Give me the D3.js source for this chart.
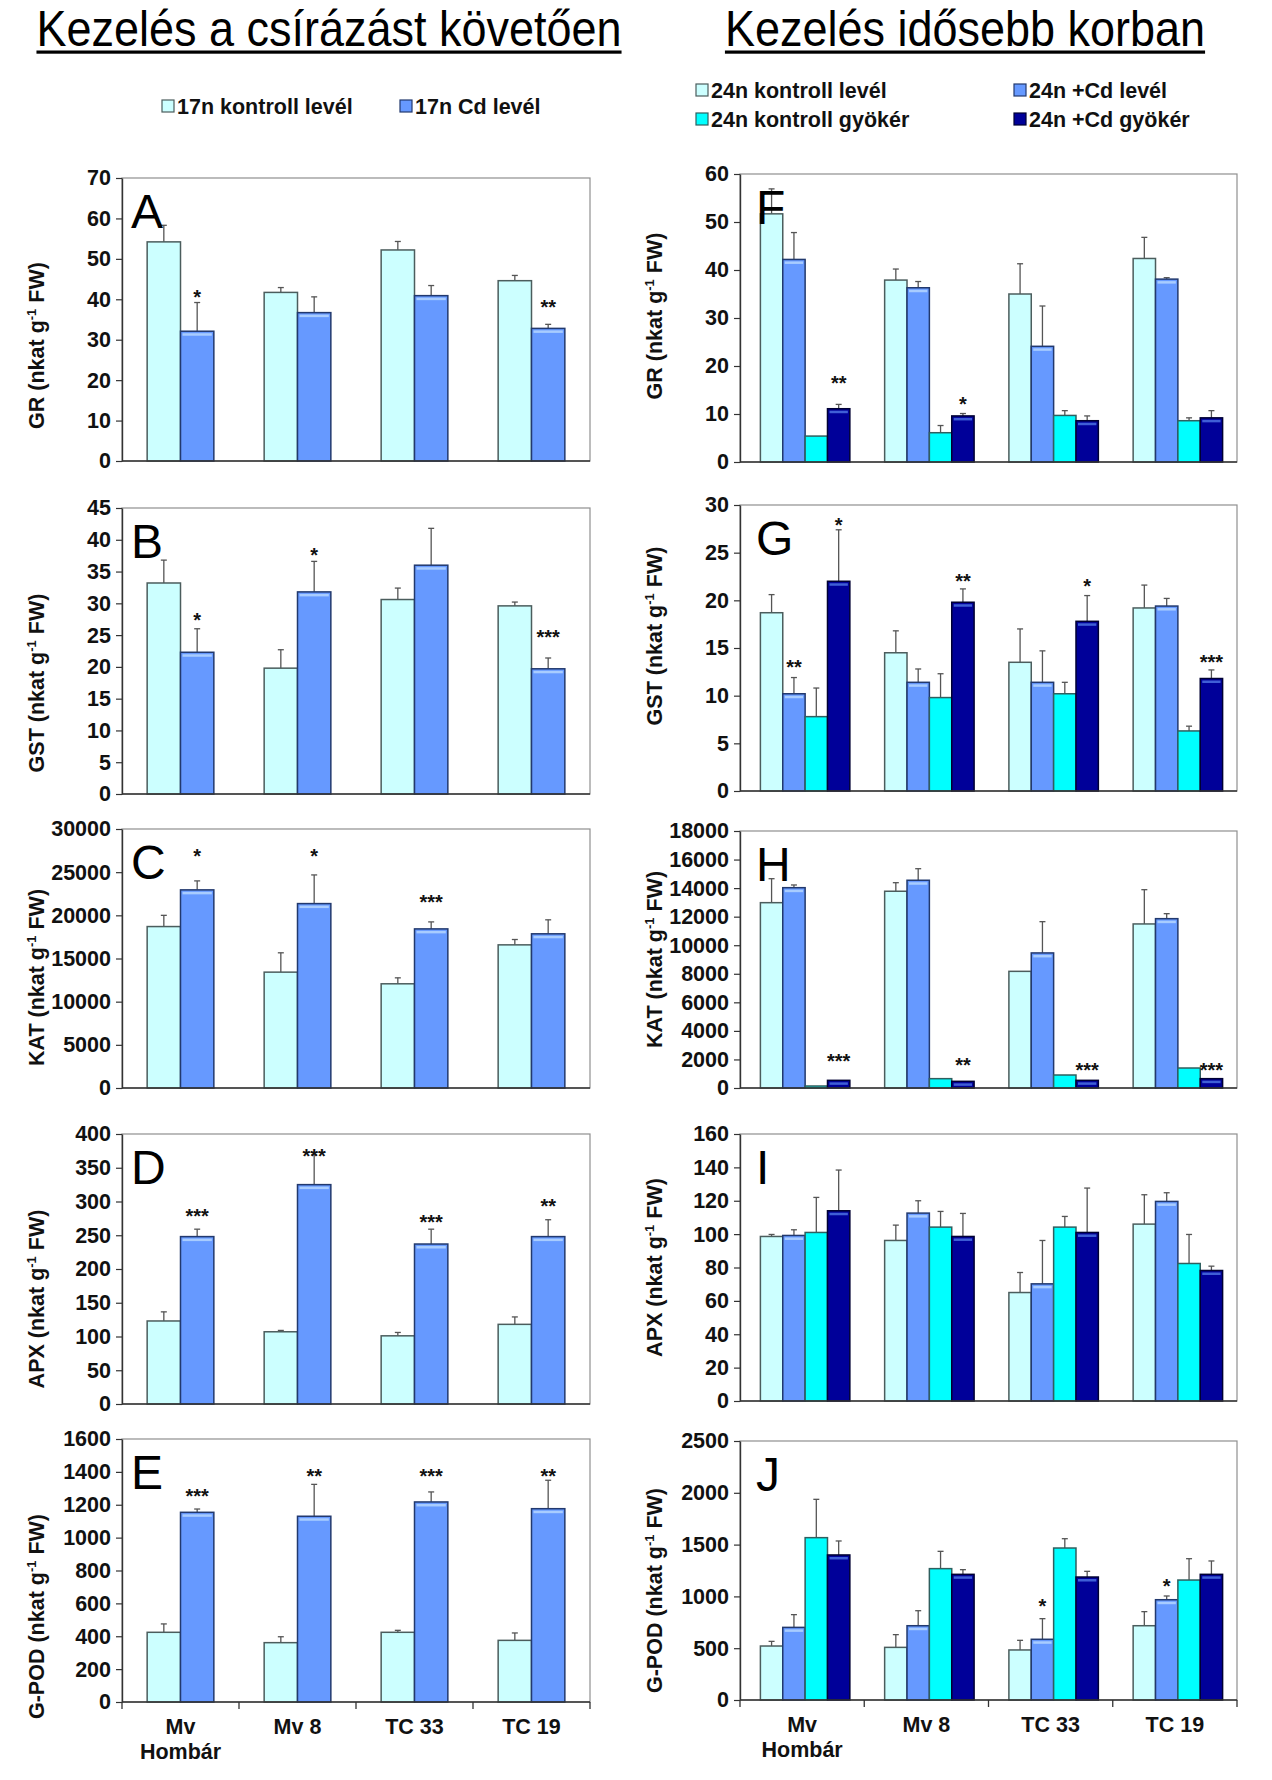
<!DOCTYPE html>
<html><head><meta charset="utf-8">
<script src="https://cdn.jsdelivr.net/npm/d3@7"></script>
<style>
body{margin:0;background:#fff}
svg{display:block}
text{font-family:"Liberation Sans",Arial,Helvetica,sans-serif}
</style>
</head><body>
<svg id="c" width="1272" height="1780"></svg>
<script>
// ---------- categories & legends ----------
const groups = ["Mv Hombár", "Mv 8", "TC 33", "TC 19"];
const groupLines = [["Mv", "Hombár"], ["Mv 8"], ["TC 33"], ["TC 19"]];
const titleLeft = "Kezelés a csírázást követően";
const titleRight = "Kezelés idősebb korban";
const legendLeft = ["17n kontroll levél", "17n Cd levél"];
const legendRight = ["24n kontroll levél", "24n +Cd levél", "24n kontroll gyökér", "24n +Cd gyökér"];

// ---------- panel A: GR (17 n) ----------
const A_kontroll = [54.2, 41.7, 52.2, 44.6];
const A_kontrollErr = [4.1, 1.2, 2.1, 1.3];
const A_cd = [32.1, 36.7, 40.9, 32.8];
const A_cdErr = [7.1, 3.9, 2.5, 1.0];
const A_sig = ["*", "", "", "**"];
const A_sigAt = [41.6, null, null, 39.1];
const A_ticks = [0, 10, 20, 30, 40, 50, 60, 70];

// ---------- panel B: GST (17 n) ----------
const B_kontroll = [33.2, 19.8, 30.6, 29.6];
const B_kontrollErr = [3.6, 2.9, 1.8, 0.6];
const B_cd = [22.3, 31.8, 36.0, 19.7];
const B_cdErr = [3.7, 4.8, 5.8, 1.7];
const B_sig = ["*", "*", "", "***"];
const B_sigAt = [28.0, 38.3, null, 25.3];
const B_ticks = [0, 5, 10, 15, 20, 25, 30, 35, 40, 45];

// ---------- panel C: KAT (17 n) ----------
const C_kontroll = [18700, 13420, 12070, 16580];
const C_kontrollErr = [1300, 2240, 690, 620];
const C_cd = [22950, 21360, 18430, 17860];
const C_cdErr = [1040, 3320, 810, 1620];
const C_sig = ["*", "*", "***", ""];
const C_sigAt = [27300, 27300, 22020, null];
const C_ticks = [0, 5000, 10000, 15000, 20000, 25000, 30000];

// ---------- panel D: APX (17 n) ----------
const D_kontroll = [123, 107, 101, 118];
const D_kontrollErr = [13.5, 2, 5, 11];
const D_cd = [248, 325, 237, 248];
const D_cdErr = [11, 44.5, 22, 25];
const D_sig = ["***", "***", "***", "**"];
const D_sigAt = [284, 374, 276, 299];
const D_ticks = [0, 50, 100, 150, 200, 250, 300, 350, 400];

// ---------- panel E: G-POD (17 n) ----------
const E_kontroll = [424, 361, 424, 375];
const E_kontrollErr = [51, 36, 12, 45];
const E_cd = [1154, 1130, 1217, 1176];
const E_cdErr = [20, 194, 61, 173];
const E_sig = ["***", "**", "***", "**"];
const E_sigAt = [1276, 1397, 1397, 1397];
const E_ticks = [0, 200, 400, 600, 800, 1000, 1200, 1400, 1600];

// ---------- panel F: GR (24 n) ----------
const F_kontrollLevel = [51.7, 37.9, 35.0, 42.4];
const F_kontrollLevelErr = [5.2, 2.3, 6.3, 4.4];
const F_cdLevel = [42.2, 36.3, 24.1, 38.1];
const F_cdLevelErr = [5.6, 1.3, 8.4, 0.3];
const F_kontrollGyoker = [5.4, 6.1, 9.7, 8.6];
const F_kontrollGyokerErr = [0, 1.5, 1.0, 0.6];
const F_cdGyoker = [11.1, 9.6, 8.6, 9.2];
const F_cdGyokerErr = [0.9, 0.5, 1.0, 1.5];
const F_cdGyokerSig = ["**", "*", "", ""];
const F_cdGyokerSigAt = [17.2, 13.0, null, null];
const F_ticks = [0, 10, 20, 30, 40, 50, 60];

// ---------- panel G: GST (24 n) ----------
const G_kontrollLevel = [18.7, 14.5, 13.5, 19.2];
const G_kontrollLevelErr = [1.9, 2.3, 3.5, 2.4];
const G_cdLevel = [10.2, 11.4, 11.4, 19.4];
const G_cdLevelErr = [1.7, 1.4, 3.3, 0.8];
const G_cdLevelSig = ["**", "", "", ""];
const G_cdLevelSigAt = [13.4, null, null, null];
const G_kontrollGyoker = [7.8, 9.8, 10.2, 6.3];
const G_kontrollGyokerErr = [3.0, 2.5, 1.2, 0.5];
const G_cdGyoker = [22.0, 19.8, 17.8, 11.8];
const G_cdGyokerErr = [5.4, 1.4, 2.7, 0.9];
const G_cdGyokerSig = ["*", "**", "*", "***"];
const G_cdGyokerSigAt = [28.3, 22.4, 21.9, 13.9];
const G_ticks = [0, 5, 10, 15, 20, 25, 30];

// ---------- panel H: KAT (24 n) ----------
const H_kontrollLevel = [12980, 13780, 8170, 11490];
const H_kontrollLevelErr = [1680, 600, 0, 2400];
const H_cdLevel = [14030, 14550, 9460, 11860];
const H_cdLevelErr = [190, 810, 2190, 350];
const H_kontrollGyoker = [140, 654, 910, 1400];
const H_kontrollGyokerErr = [0, 0, 0, 0];
const H_cdGyoker = [537, 467, 537, 654];
const H_cdGyokerErr = [0, 0, 0, 0];
const H_cdGyokerSig = ["***", "**", "***", "***"];
const H_cdGyokerSigAt = [2170, 1890, 1540, 1540];
const H_ticks = [0, 2000, 4000, 6000, 8000, 10000, 12000, 14000, 16000, 18000];

// ---------- panel I: APX (24 n) ----------
const I_kontrollLevel = [98.6, 96.2, 65.0, 106.0];
const I_kontrollLevelErr = [1.2, 9.2, 12.0, 17.6];
const I_cdLevel = [99.2, 112.6, 70.2, 119.6];
const I_cdLevelErr = [3.4, 7.4, 26.0, 5.2];
const I_kontrollGyoker = [101.0, 104.2, 104.2, 82.4];
const I_kontrollGyokerErr = [21.0, 9.4, 6.4, 17.4];
const I_cdGyoker = [114.0, 98.6, 101.0, 78.2];
const I_cdGyokerErr = [24.4, 13.8, 26.6, 2.6];
const I_ticks = [0, 20, 40, 60, 80, 100, 120, 140, 160];

// ---------- panel J: G-POD (24 n) ----------
const J_kontrollLevel = [521, 508, 483, 717];
const J_kontrollLevelErr = [45, 123, 93, 136];
const J_cdLevel = [701, 717, 586, 968];
const J_cdLevelErr = [123, 145, 199, 36];
const J_cdLevelSig = ["", "", "*", "*"];
const J_cdLevelSigAt = [null, null, 946, 1139];
const J_kontrollGyoker = [1567, 1268, 1467, 1158];
const J_kontrollGyokerErr = [370, 167, 90, 206];
const J_cdGyoker = [1400, 1213, 1187, 1213];
const J_cdGyokerErr = [135, 45, 55, 129];
const J_ticks = [0, 500, 1000, 1500, 2000, 2500];

// ---------- styles ----------
const FILL = {kl: "#CCFFFF", cdl: "#6699FF", kr: "#00FFFF", cdr: "#000099"};
const STROKE = {kl: "#4b5d5d", cdl: "#22396e", kr: "#2f5f5f", cdr: "#000033"};
const HIGH = {kl: null, cdl: "#a8ccff", kr: null, cdr: "#3f5fd6"};
const FONT = '"Liberation Sans",Arial,sans-serif';

const svg = d3.select("#c");
svg.append("rect").attr("width", 1272).attr("height", 1780).attr("fill", "#fff");

// ---------- titles ----------
function title(txt, cx) {
  const sx = 0.9;
  const t = svg.append("text").attr("transform", `translate(${cx},46) scale(${sx},1)`)
    .attr("text-anchor", "middle").attr("font-size", 50).attr("fill", "#000").text(txt);
  const w = t.node().getComputedTextLength() * sx;
  svg.append("rect").attr("x", cx - w / 2).attr("y", 50.5).attr("width", w).attr("height", 3.2).attr("fill", "#000");
}
title(titleLeft, 329);
title(titleRight, 965);

// ---------- legends ----------
function legendItem(x, yc, key, label) {
  const gr = svg.append("g");
  gr.append("rect").attr("x", x).attr("y", yc - 6).attr("width", 12).attr("height", 12)
    .attr("fill", FILL[key]).attr("stroke", STROKE[key]).attr("stroke-width", 1.2);
  gr.append("text").attr("x", x + 15).attr("y", yc + 7.5).attr("font-size", 21.5).attr("font-weight", "bold")
    .attr("fill", "#111").text(label);
}
legendItem(162, 106, "kl", legendLeft[0]);
legendItem(400, 106, "cdl", legendLeft[1]);
legendItem(696, 90, "kl", legendRight[0]);
legendItem(1014, 90, "cdl", legendRight[1]);
legendItem(696, 119, "kr", legendRight[2]);
legendItem(1014, 119, "cdr", legendRight[3]);

// ---------- panel drawing ----------
function panel(cfg) {
  const g = svg.append("g");
  const x = d3.scaleBand().domain(groups).range([cfg.x0, cfg.x1]).padding(0);
  const bw = x.bandwidth();
  const inner = d3.scaleBand().domain(cfg.series.map(s => s.key))
    .range([bw * (1 - cfg.frac) / 2 + cfg.shift, bw * (1 + cfg.frac) / 2 + cfg.shift]).padding(0);
  const y = d3.scaleLinear().domain([0, d3.max(cfg.ticks)]).range([cfg.y1, cfg.y0]);

  g.append("rect").attr("x", cfg.x0).attr("y", cfg.y0).attr("width", cfg.x1 - cfg.x0)
    .attr("height", cfg.y1 - cfg.y0).attr("fill", "none").attr("stroke", "#8f8f8f").attr("stroke-width", 1.2);

  cfg.series.forEach(s => {
    const data = groups.map((c, i) => ({c, v: s.values[i], e: s.errs[i], sig: s.sig ? s.sig[i] : "", at: s.sigAt ? s.sigAt[i] : null}));
    const sg = g.append("g");
    const cx = d => x(d.c) + inner(s.key) + inner.bandwidth() / 2;
    sg.selectAll("line.e").data(data.filter(d => d.e > 0)).join("line")
      .attr("x1", cx).attr("x2", cx).attr("y1", d => y(d.v)).attr("y2", d => y(d.v + d.e))
      .attr("stroke", "#555").attr("stroke-width", 1.3);
    sg.selectAll("line.c").data(data.filter(d => d.e > 0)).join("line")
      .attr("x1", d => cx(d) - 3).attr("x2", d => cx(d) + 3).attr("y1", d => y(d.v + d.e)).attr("y2", d => y(d.v + d.e))
      .attr("stroke", "#555").attr("stroke-width", 1.3);
    sg.selectAll("rect.b").data(data).join("rect")
      .attr("x", d => x(d.c) + inner(s.key)).attr("y", d => y(d.v))
      .attr("width", inner.bandwidth()).attr("height", d => y(0) - y(d.v))
      .attr("fill", FILL[s.key]).attr("stroke", STROKE[s.key]).attr("stroke-width", 1.5);
    if (HIGH[s.key]) {
      sg.selectAll("rect.h").data(data.filter(d => y(0) - y(d.v) > 6)).join("rect")
        .attr("x", d => x(d.c) + inner(s.key) + 2).attr("y", d => y(d.v) + 2)
        .attr("width", inner.bandwidth() - 4).attr("height", 2.5).attr("fill", HIGH[s.key]);
    }
    sg.selectAll("text.s").data(data.filter(d => d.sig && d.at != null)).join("text")
      .attr("x", cx).attr("y", d => y(d.at) + 11).attr("text-anchor", "middle")
      .attr("font-size", 20).attr("font-weight", "bold").attr("fill", "#111").text(d => d.sig);
  });

  const ax = g.append("g").attr("transform", `translate(${cfg.x0},0)`)
    .call(d3.axisLeft(y).tickValues(cfg.ticks).tickFormat(d => String(d)).tickSize(6).tickPadding(5).tickSizeOuter(0));
  ax.select(".domain").attr("stroke", "#333").attr("stroke-width", 1.4);
  ax.selectAll(".tick line").attr("stroke", "#333").attr("stroke-width", 1.2);
  ax.selectAll(".tick text").attr("font-size", 21.5).attr("font-weight", "bold").attr("fill", "#111")
    .attr("font-family", FONT);

  g.append("line").attr("x1", cfg.x0).attr("x2", cfg.x1).attr("y1", cfg.y1).attr("y2", cfg.y1)
    .attr("stroke", "#333").attr("stroke-width", 1.5);

  if (cfg.showCats) {
    const bounds = groups.map(c => x(c)).concat([cfg.x1]);
    g.selectAll("line.bt").data(bounds).join("line")
      .attr("x1", d => d).attr("x2", d => d).attr("y1", cfg.y1).attr("y2", cfg.y1 + 7)
      .attr("stroke", "#333").attr("stroke-width", 1.3);
    groups.forEach((c, i) => {
      const t = g.append("text").attr("x", x(c) + bw / 2).attr("y", cfg.y1 + 32)
        .attr("text-anchor", "middle").attr("font-size", 21.5).attr("font-weight", "bold").attr("fill", "#111");
      groupLines[i].forEach((ln, j) => {
        t.append("tspan").attr("x", x(c) + bw / 2).attr("dy", j === 0 ? 0 : 25).text(ln);
      });
    });
  }

  const lx = cfg.labelX, ly = (cfg.y0 + cfg.y1) / 2 + cfg.labelDy;
  const yt = g.append("text").attr("transform", `translate(${lx},${ly}) rotate(-90)`)
    .attr("text-anchor", "middle").attr("font-size", 21.5).attr("font-weight", "bold").attr("fill", "#111");
  yt.append("tspan").text(cfg.name + " (nkat g");
  yt.append("tspan").attr("dy", -8).attr("font-size", 13).text("-1");
  yt.append("tspan").attr("dy", 8).text(" FW)");

  g.append("text").attr("x", cfg.x0 + cfg.letterDx).attr("y", cfg.y0 + 50).attr("font-size", 48)
    .attr("fill", "#000").text(cfg.letter);
}

const L = {x0: 122, x1: 590, frac: 0.57, shift: 0, labelX: 44, letterDx: 9};
const R = {x0: 740, x1: 1237, frac: 0.72, shift: 3, labelX: 662, letterDx: 16};

function leftSeries(k, ke, c, ce, sig, sigAt) {
  return [{key: "kl", values: k, errs: ke}, {key: "cdl", values: c, errs: ce, sig, sigAt}];
}
function rightSeries(a, ae, b, be, c, ce, d, de, bs, bsa, ds, dsa) {
  return [
    {key: "kl", values: a, errs: ae},
    {key: "cdl", values: b, errs: be, sig: bs, sigAt: bsa},
    {key: "kr", values: c, errs: ce},
    {key: "cdr", values: d, errs: de, sig: ds, sigAt: dsa}
  ];
}

panel({...L, y0: 178, y1: 461, labelDy: 26, ticks: A_ticks, name: "GR", letter: "A",
  series: leftSeries(A_kontroll, A_kontrollErr, A_cd, A_cdErr, A_sig, A_sigAt)});
panel({...L, y0: 508, y1: 794, labelDy: 32, ticks: B_ticks, name: "GST", letter: "B",
  series: leftSeries(B_kontroll, B_kontrollErr, B_cd, B_cdErr, B_sig, B_sigAt)});
panel({...L, y0: 829, y1: 1088, labelDy: 19, ticks: C_ticks, name: "KAT", letter: "C",
  series: leftSeries(C_kontroll, C_kontrollErr, C_cd, C_cdErr, C_sig, C_sigAt)});
panel({...L, y0: 1134, y1: 1404, labelDy: 30, ticks: D_ticks, name: "APX", letter: "D",
  series: leftSeries(D_kontroll, D_kontrollErr, D_cd, D_cdErr, D_sig, D_sigAt)});
panel({...L, y0: 1439, y1: 1702, labelDy: 46, ticks: E_ticks, name: "G-POD", letter: "E", showCats: true,
  series: leftSeries(E_kontroll, E_kontrollErr, E_cd, E_cdErr, E_sig, E_sigAt)});

panel({...R, y0: 174, y1: 462, labelDy: -2, ticks: F_ticks, name: "GR", letter: "F",
  series: rightSeries(F_kontrollLevel, F_kontrollLevelErr, F_cdLevel, F_cdLevelErr,
    F_kontrollGyoker, F_kontrollGyokerErr, F_cdGyoker, F_cdGyokerErr, null, null, F_cdGyokerSig, F_cdGyokerSigAt)});
panel({...R, y0: 505, y1: 791, labelDy: -12, ticks: G_ticks, name: "GST", letter: "G",
  series: rightSeries(G_kontrollLevel, G_kontrollLevelErr, G_cdLevel, G_cdLevelErr,
    G_kontrollGyoker, G_kontrollGyokerErr, G_cdGyoker, G_cdGyokerErr, G_cdLevelSig, G_cdLevelSigAt, G_cdGyokerSig, G_cdGyokerSigAt)});
panel({...R, y0: 831, y1: 1088, labelDy: 0, ticks: H_ticks, name: "KAT", letter: "H",
  series: rightSeries(H_kontrollLevel, H_kontrollLevelErr, H_cdLevel, H_cdLevelErr,
    H_kontrollGyoker, H_kontrollGyokerErr, H_cdGyoker, H_cdGyokerErr, null, null, H_cdGyokerSig, H_cdGyokerSigAt)});
panel({...R, y0: 1134, y1: 1401, labelDy: 0, ticks: I_ticks, name: "APX", letter: "I",
  series: rightSeries(I_kontrollLevel, I_kontrollLevelErr, I_cdLevel, I_cdLevelErr,
    I_kontrollGyoker, I_kontrollGyokerErr, I_cdGyoker, I_cdGyokerErr, null, null, null, null)});
panel({...R, y0: 1441, y1: 1700, labelDy: 20, ticks: J_ticks, name: "G-POD", letter: "J", showCats: true,
  series: rightSeries(J_kontrollLevel, J_kontrollLevelErr, J_cdLevel, J_cdLevelErr,
    J_kontrollGyoker, J_kontrollGyokerErr, J_cdGyoker, J_cdGyokerErr, J_cdLevelSig, J_cdLevelSigAt, null, null)});
</script>
</body></html>
